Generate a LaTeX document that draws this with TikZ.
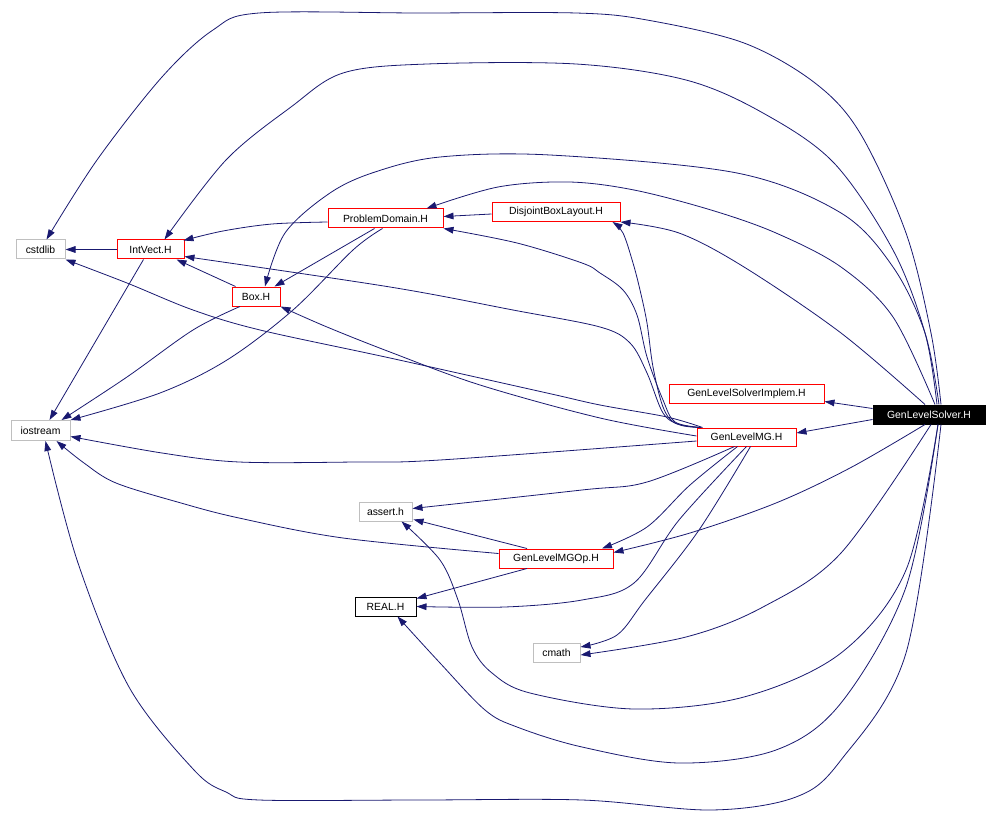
\documentclass[tikz,border=0pt]{standalone}
\usepackage{fontspec}
\setmainfont{Liberation Sans}
\usetikzlibrary{arrows.meta,calc}
\definecolor{edgec}{HTML}{191970}
\definecolor{grayb}{HTML}{BFBFBF}
\begin{document}
\begin{tikzpicture}[x=0.75pt,y=-0.75pt,
  file/.style={draw, line width=0.75pt, inner sep=0pt, minimum height=14.25pt,
    font=\fontsize{7.8pt}{9pt}\selectfont, text=black, fill=white},
  bw/.style={minimum width=#1*0.75pt},
  grayf/.style={file, draw=grayb},
  redf/.style={file, draw=red},
  blackf/.style={file, draw=black},
  mainf/.style={file, draw=black, fill=black, text=white},
  edge/.style={draw=edgec, line width=0.6pt, -{Triangle[length=7.5pt,width=5pt]}},
  sm/.style={smooth, tension=0.55}
]
\useasboundingbox (0,0) rectangle (1000,838);

% nodes
\node[grayf, bw=49] (cs) at (40.5,249.5) {cstdlib};
\node[redf, bw=67] (iv) at (150.5,249.5) {IntVect.H};
\node[redf, bw=115] (pd) at (385.5,218.5) {ProblemDomain.H};
\node[redf, bw=128] (dbl) at (556,212) {DisjointBoxLayout.H};
\node[redf, bw=48] (box) at (256,296.5) {Box.H};
\node[grayf, bw=59, minimum height=15pt] (io) at (40.5,430.5) {iostream};
\node[redf, bw=155] (im) at (746.5,393.5) {GenLevelSolverImplem.H};
\node[mainf, bw=112] (gls) at (929,414.5) {GenLevelSolver.H};
\node[redf, bw=99, minimum height=13.5pt] (mg) at (746.5,437) {GenLevelMG.H};
\node[grayf, bw=53] (as) at (385.5,511.5) {assert.h};
\node[redf, bw=114] (mgop) at (556,558.5) {GenLevelMGOp.H};
\node[blackf, bw=61] (re) at (385.5,606.5) {REAL.H};
\node[grayf, bw=47] (cm) at (556.5,653) {cmath};

% left cluster
\draw[edge] (iv.west) -- (cs.east);
\draw[edge] plot[sm] coordinates {($(pd.west)+(0,3.5)$) (272,224) (223,231) ($(iv.north east)+(-1,1)$)};
\draw[edge] ($(dbl.west)+(0,2)$) -- ($(pd.east)+(0,-2)$);
\draw[edge] ($(box.north west)+(4,0)$) -- ($(iv.south east)+(-8,0)$);
\draw[edge] ($(pd.south)+(-11,0)$) -- ($(box.north east)+(-6,0)$);
\draw[edge] ($(iv.south)+(-7,0)$) -- ($(io.north)+(9,0)$);
\draw[edge] plot[sm] coordinates {($(box.south)+(-16,0)$) (193,330) (127,377) ($(io.north)+(21,0)$)};
\draw[edge] plot[sm] coordinates {($(pd.south)+(-3,0)$) (353,250) (293,310) (227,360) (160,393) (io.north east)};

% from GenLevelSolver.H
\draw[edge] plot[sm] coordinates {($(gls.north)+(12,0)$) (931,333) (906,233) (860,133) (815,83) (744,43) (647,20) (576,13) (420,13) (259,13) (213,30) (162,77) (97,160) ($(cs.north)+(6,0)$)};
\draw[edge] plot[sm] coordinates {($(gls.north)+(8,0)$) (925,333) (893,250) (834,163) (763,113) (686,80) (576,64) (427,64) (343,73) (291,107) (226,160) ($(iv.north)+(14,0)$)};
\draw[edge] plot[sm] coordinates {($(gls.north)+(10,0)$) (925,333) (893,267) (841,213) (737,173) (550,155) (440,157) (375,172) (330,193) (285,233) ($(box.north)+(9,0)$)};
\draw[edge] plot[sm] coordinates {($(gls.north)+(6,0)$) (893,317) (841,267) (776,233) (711,210) (634,190) (569,182) (498,187) ($(pd.north east)+(-17,0)$)};
\draw[edge] plot[sm] coordinates {($(gls.north)+(-4,0)$) (841,333) (744,267) (679,233) (dbl.south east)};
\draw[edge] ($(gls.west)+(0,-6)$) -- ($(im.east)+(0,8)$);
\draw[edge] ($(gls.west)+(0,5)$) -- ($(mg.east)+(0,-4)$);
\draw[edge] plot[sm] coordinates {($(gls.south)+(-4,0)$) (850,468) (776,503) (690,533) ($(mgop.east)+(0,-6)$)};
\draw[edge] plot[sm] coordinates {($(gls.south)+(2,0)$) (841,553) (763,607) (686,637) ($(cm.east)+(0,2)$)};
\draw[edge] plot[sm] coordinates {($(gls.south)+(9,0)$) (906,570) (841,653) (744,697) (634,709) (530,693) (492,673) (472,647) (458,600) (440,560) ($(as.south)+(16,0)$)};
\draw[edge] plot[sm] coordinates {($(gls.south)+(9,0)$) (906,587) (841,703) (776,750) (679,763) (582,747) (517,727) (485,710) (440,663) ($(re.south)+(12,0)$)};
\draw[edge] plot[sm] coordinates {($(gls.south)+(12,0)$) (906,653) (841,760) (796,797) (711,810) (582,800) (420,800) (259,800) (226,792) (194,770) (129,687) (78,563) ($(io.south)+(5,0)$)};

% from GenLevelMG.H
\draw[edge] plot[sm] coordinates {($(mg.north west)+(3,0)$) (675,423) (663,407) (653,367) (647,323) (640,290) (633,263) (623,233) ($(dbl.south east)+(-8,0)$)};
\draw[edge] plot[sm] coordinates {($(mg.north west)+(5,0)$) (675,422) (663,400) (647,357) (637,315) (623,290) (600,273) (582,263) (517,243) (pd.south east)};
\draw[edge] plot[sm] coordinates {($(mg.north west)+(4,0)$) (680,425) (663,413) (647,373) (630,343) (600,327) (513,310) (390,287) ($(iv.east)+(0,7)$)};
\draw[edge] plot[sm] coordinates {($(mg.west)+(0,-1)$) (600,418) (480,385) (390,352) (327,327) (box.south east)};
\draw[edge] plot[sm] coordinates {($(mg.north west)+(6,0)$) (667,417) (600,405) (547,393) (390,358) (260,330) (193,310) (127,283) (cs.south east)};
\draw[edge] plot[sm] coordinates {($(mg.west)+(0,4)$) (440,460) (356,462) (239,462) (162,453) ($(io.east)+(0,6)$)};
\draw[edge] plot[sm] coordinates {($(mg.south)+(-12,0)$) (647,482) (582,490) ($(as.east)+(0,-3)$)};
\draw[edge] plot[sm] coordinates {($(mg.south)+(-9,0)$) (690,485) (647,527) ($(mgop.north)+(46,0)$)};
\draw[edge] plot[sm] coordinates {(mg.south) (679,520) (634,583) (582,600) (505,607) (re.east)};
\draw[edge] plot[sm] coordinates {($(mg.south)+(4,0)$) (699,530) (645,600) (617,635) ($(cm.east)+(0,-6)$)};

% from GenLevelMGOp.H
\draw[edge] ($(mgop.north)+(-29,0)$) -- ($(as.south east)+(1,-2)$);
\draw[edge] ($(mgop.south)+(-29,0)$) -- ($(re.north east)+(0,2)$);
\draw[edge] plot[sm] coordinates {($(mgop.west)+(0,-5)$) (343,538) (239,518) (181,503) (116,483) (84,463) ($(io.south)+(16,0)$)};
\end{tikzpicture}
\end{document}
